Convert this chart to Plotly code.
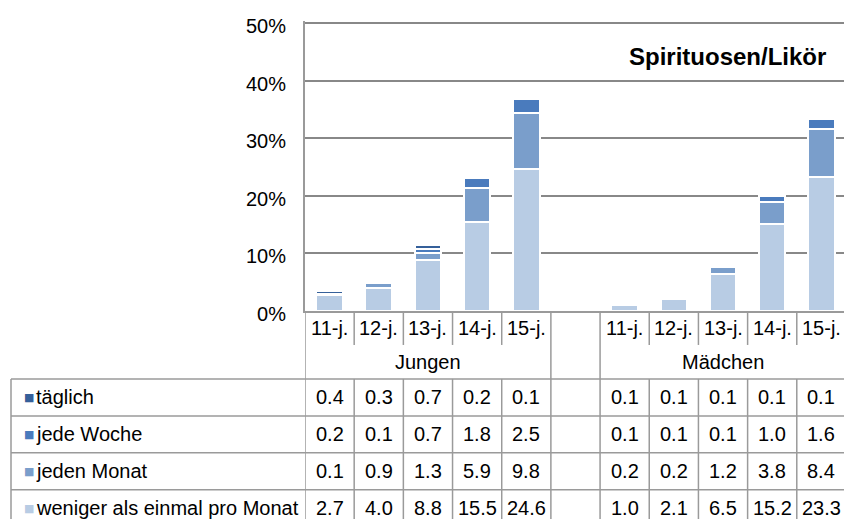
import plotly.graph_objects as go

# ---------------- data ----------------
age_labels = ["11-j.", "12-j.", "13-j.", "14-j.", "15-j."]
groups = ["Jungen", "Mädchen"]
series_names = ["täglich", "jede Woche", "jeden Monat", "weniger als einmal pro Monat"]

taeglich_j = [0.4, 0.3, 0.7, 0.2, 0.1]
taeglich_m = [0.1, 0.1, 0.1, 0.1, 0.1]
woche_j = [0.2, 0.1, 0.7, 1.8, 2.5]
woche_m = [0.1, 0.1, 0.1, 1.0, 1.6]
monat_j = [0.1, 0.9, 1.3, 5.9, 9.8]
monat_m = [0.2, 0.2, 1.2, 3.8, 8.4]
weniger_j = [2.7, 4.0, 8.8, 15.5, 24.6]
weniger_m = [1.0, 2.1, 6.5, 15.2, 23.3]

y_ticks = [0, 10, 20, 30, 40, 50]
y_tick_text = ["0%", "10%", "20%", "30%", "40%", "50%"]
title_text = "Spirituosen/Likör"

# ---------------- styling ----------------
colors = {
    "täglich": "#35609a",
    "jede Woche": "#4a7bbd",
    "jeden Monat": "#7a9ecb",
    "weniger als einmal pro Monat": "#b8cce4",
}
W, H = 844, 519
Y_MAX = 50.4
PX_PER_UNIT = (311 - 23) / 50.0
L, B_PX = 305, 311
T = B_PX - Y_MAX * PX_PER_UNIT       # plot top edge in px
PLOT_H = B_PX - T
PLOT_W = W - L
line_col = "#9a9a9a"
grid_col = "#888888"
font_fam = "Liberation Sans, Arial, sans-serif"
tfs = 20

def py(p):   # pixel y -> paper y
    return (B_PX - p) / PLOT_H

def px(p):   # pixel x -> paper x
    return (p - L) / PLOT_W

# x positions: 5 Jungen slots, one gap, 5 Mädchen slots
x_j = list(range(5))
x_m = [6 + i for i in range(5)]
xs = x_j + x_m

stack = [
    ("weniger als einmal pro Monat", weniger_j + weniger_m),
    ("jeden Monat", monat_j + monat_m),
    ("jede Woche", woche_j + woche_m),
    ("täglich", taeglich_j + taeglich_m),
]

fig = go.Figure()
for name, vals in stack:
    fig.add_trace(go.Bar(
        x=xs, y=vals, name=name, width=0.54,
        marker=dict(color=colors[name], line=dict(color="white", width=2)),
        showlegend=False, hoverinfo="y",
    ))

shapes = []
ann = []

# ---- table geometry (pixel rows) ----
cat_top, cat_bot = B_PX, 345
grp_bot = 379
row_edges = [379, 416, 453, 490, 527]
tbl_left = 11

# category row: vertical lines at every slot boundary
for k in range(12):
    shapes.append(dict(type="line", xref="x", yref="paper",
                       x0=k - 0.5, x1=k - 0.5, y0=py(cat_top), y1=py(cat_bot),
                       line=dict(color=line_col, width=1.5)))
# group row: only group boundaries
for k in [-0.5, 4.5, 5.5, 10.5]:
    shapes.append(dict(type="line", xref="x", yref="paper",
                       x0=k, x1=k, y0=py(cat_bot), y1=py(grp_bot),
                       line=dict(color=line_col, width=1.5)))
# data rows vertical lines
for k in range(12):
    shapes.append(dict(type="line", xref="x", yref="paper",
                       x0=k - 0.5, x1=k - 0.5, y0=py(row_edges[0]), y1=py(row_edges[-1]),
                       line=dict(color=line_col, width=1.5)))
# table left border
shapes.append(dict(type="line", xref="paper", yref="paper",
                   x0=px(tbl_left), x1=px(tbl_left), y0=py(row_edges[0]), y1=py(row_edges[-1]),
                   line=dict(color=line_col, width=1.5)))
# horizontal row lines
for r in row_edges:
    shapes.append(dict(type="line", xref="paper", yref="paper",
                       x0=px(tbl_left), x1=1.0, y0=py(r), y1=py(r),
                       line=dict(color=line_col, width=1.5)))

def txt(xref, x, y, text, size=tfs, family=font_fam, color="black", xanchor="center"):
    return dict(xref=xref, yref="paper", x=x, y=y, text=text, showarrow=False,
                xanchor=xanchor, yanchor="middle",
                font=dict(family=family, size=size, color=color))

# category labels
for i, x in enumerate(xs):
    ann.append(txt("x", x, py((cat_top + cat_bot) / 2), age_labels[i % 5]))
# group labels
for g, xc in zip(groups, [2, 8]):
    ann.append(txt("x", xc, py((cat_bot + grp_bot) / 2), g))

# data rows (top to bottom: täglich, Woche, Monat, weniger)
table_rows = [
    ("täglich", taeglich_j + taeglich_m),
    ("jede Woche", woche_j + woche_m),
    ("jeden Monat", monat_j + monat_m),
    ("weniger als einmal pro Monat", weniger_j + weniger_m),
]
for r, (name, vals) in enumerate(table_rows):
    yc = py((row_edges[r] + row_edges[r + 1]) / 2)
    ann.append(txt("paper", px(22), yc, "■", size=11, family="DejaVu Sans",
                   color=colors[name], xanchor="left"))
    ann.append(txt("paper", px(34), yc, name, xanchor="left"))
    for x, v in zip(xs, vals):
        ann.append(txt("x", x, yc, f"{v:.1f}"))

# title
ann.append(txt("paper", px(727), py(56), f"<b>{title_text}</b>", size=24))

fig.update_layout(
    width=W, height=H,
    margin=dict(l=L, r=0, t=T, b=H - B_PX, pad=0, autoexpand=False),
    paper_bgcolor="white", plot_bgcolor="white",
    barmode="stack", bargap=0,
    shapes=shapes, annotations=ann,
    xaxis=dict(range=[-0.5, 10.46], showticklabels=False, showgrid=False,
               zeroline=False, showline=True, linecolor=line_col, linewidth=1.5,
               ticks="", fixedrange=True, automargin=False),
    yaxis=dict(range=[0, Y_MAX], tickmode="array", tickvals=y_ticks, ticktext=y_tick_text,
               showgrid=True, gridcolor=grid_col, gridwidth=2,
               zeroline=False, showline=True, linecolor=line_col, linewidth=2,
               ticks="", ticklabelstandoff=13, ticklabelshift=3, automargin=False,
               tickfont=dict(family="Liberation Sans, Arial, sans-serif", size=20, color="black")),
)

fig.write_html("out.html", config={"displayModeBar": False},
               post_script="document.body.style.margin='0';")
